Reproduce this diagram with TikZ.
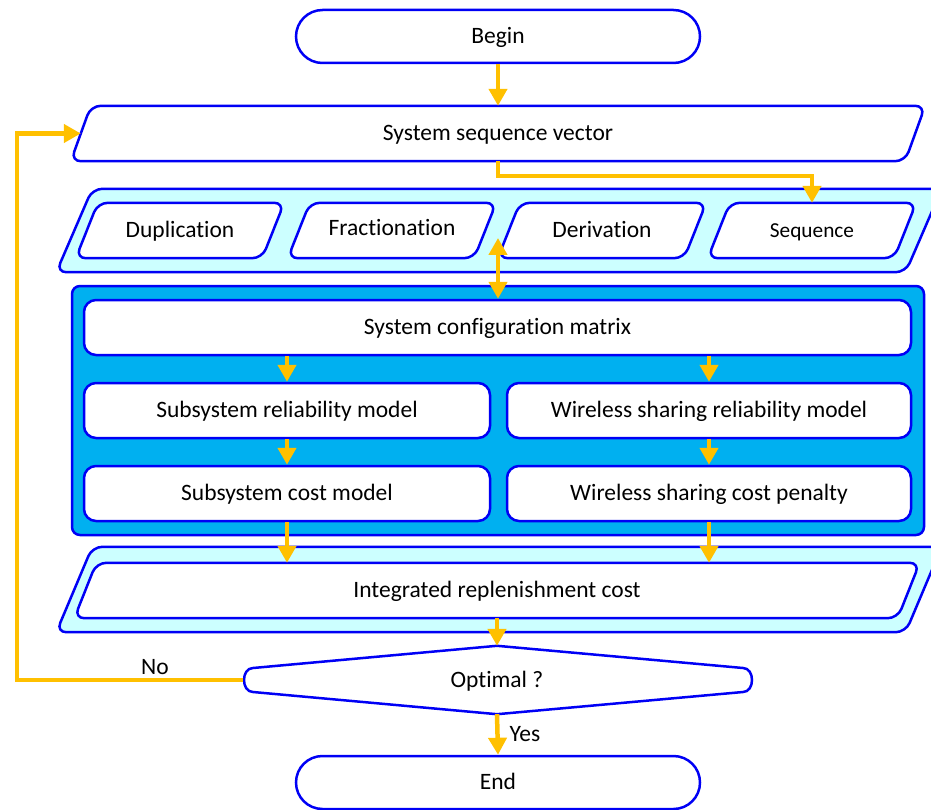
\documentclass[tikz,border=0pt]{standalone}
\usepackage{fontspec}
\setmainfont{Carlito}[Ligatures=NoCommon]
\usetikzlibrary{arrows.meta,backgrounds,calc}
\definecolor{bordblue}{RGB}{0,0,245}
\definecolor{arrorange}{RGB}{255,192,0}
\definecolor{pale}{RGB}{204,255,255}
\definecolor{deepsky}{RGB}{0,176,240}

% parallelogram drawn around a named node: #1 name, #2 slant, #3 style
\newcommand{\parabox}[3]{%
  \path[#3] ([xshift=#2/2]#1.north west) -- ([xshift=#2/2]#1.north east)
    -- ([xshift=-#2/2]#1.south east) -- ([xshift=-#2/2]#1.south west) -- cycle;}

\tikzset{
  lbl/.style={font=\fontsize{23.5}{28}\selectfont, inner sep=0pt, text=black,
    text height=18pt, text depth=3.4pt},
  shp/.style={draw=bordblue, line width=2.5pt, rounded corners=10pt},
  whiteshp/.style={shp, fill=white},
  paleshp/.style={shp, fill=pale},
  term/.style={lbl, draw=bordblue, line width=2.5pt, fill=white, rounded corners=26.5pt,
    minimum width=404pt, minimum height=53pt},
  rbox/.style={lbl, draw=bordblue, line width=2.5pt, fill=white, rounded corners=12pt,
    minimum height=55pt},
  pbox/.style={lbl, minimum height=55pt},
  arr/.style={draw=arrorange, line width=4.5pt, -{Triangle[width=18pt,length=17pt]}},
  darr/.style={draw=arrorange, line width=4.5pt, {Triangle[width=18pt,length=17pt]}-{Triangle[width=18pt,length=17pt]}},
}

\begin{document}
\begin{tikzpicture}[x=1pt, y=-1pt]
\useasboundingbox (0,0) rectangle (931,810);

% terminals
\node[term] (begin) at (498,36.5) {Begin};
\node[term] (end) at (498,782.5) {End};

% system sequence vector
\node[pbox, minimum width=834pt] (ssv) at (498,133.5) {System sequence vector};

% row container of four methods
\node[pbox, minimum width=849pt, minimum height=83pt] (row) at (499,230.5) {};
\node[pbox, minimum width=186pt] (dup) at (180,230.5) {Duplication};
\node[pbox, minimum width=186pt] (fra) at (392,230.5) {\raisebox{2pt}{Fractionation}};
\node[pbox, minimum width=186pt] (der) at (602,230.5) {Derivation};
\node[pbox, minimum width=186pt, font=\fontsize{21.3}{25}\selectfont] (seq) at (812,230.5) {Sequence};

% blue container
\node[draw=bordblue, line width=2.5pt, fill=deepsky, rounded corners=8pt,
      minimum width=852pt, minimum height=249pt, inner sep=0pt] (blue) at (498,410.5) {};
\node[rbox, minimum width=827pt] (cfg) at (497.5,327.5) {System configuration matrix};
\node[rbox, minimum width=406pt] (srm) at (287,410.5) {Subsystem reliability model};
\node[rbox, minimum width=406pt] (scm) at (287,493.5) {Subsystem cost model};
\node[rbox, minimum width=404pt] (wsr) at (709,410.5) {Wireless sharing reliability model};
\node[rbox, minimum width=404pt] (wsc) at (709,493.5) {Wireless sharing cost penalty};

% integrated replenishment cost
\node[pbox, minimum width=849pt, minimum height=85pt] (ircout) at (499,589.5) {};
\node[pbox, minimum width=823pt] (irc) at (497,590.5) {Integrated replenishment cost};

% decision
\node[lbl, minimum width=508pt, minimum height=68pt] (opt) at (497,680) {Optimal ?};

\node[lbl] (no) at (155,667) {No};
\node[lbl] (yes) at (525,734) {Yes};

\coordinate (loopx) at (17,0);
\coordinate (dtop) at (498,238);

% shapes behind texts
\begin{pgfonlayer}{background}
  \parabox{ssv}{20}{whiteshp}
  \parabox{row}{36}{paleshp}
  \parabox{dup}{22}{whiteshp}
  \parabox{fra}{22}{whiteshp}
  \parabox{der}{22}{whiteshp}
  \parabox{seq}{22}{whiteshp}
  \parabox{ircout}{36}{paleshp}
  \parabox{irc}{22}{whiteshp}
  \path[draw=bordblue, line width=2.5pt, fill=white, line join=round]
    (opt.north) -- (743,668) .. controls (755,668) and (755,692) .. (743,692)
    -- (opt.south) -- (253,692) .. controls (241,692) and (241,668) .. (253,668) -- cycle;
\end{pgfonlayer}

% connectors
\draw[arr] (begin) -- (ssv.north);
\draw[arr] (ssv.south) -- ++(0,15) -| (seq.north);
\draw[darr] (dtop) -- (cfg.north -| dtop);
\draw[arr] (cfg.south -| srm.north) -- (srm.north);
\draw[arr] (cfg.south -| wsr.north) -- (wsr.north);
\draw[arr] (srm) -- (scm);
\draw[arr] (wsr) -- (wsc);
\draw[arr] (scm.south) -- (scm.south |- irc.north);
\draw[arr] (wsc.south) -- (wsc.south |- irc.north);
\draw[arr] (irc.south -| opt.north) -- (opt.north);
\draw[arr] (opt.south) -- (end.north);
\draw[arr] (opt.west) -- (opt.west -| loopx) |- (ssv.west);
\end{tikzpicture}
\end{document}
